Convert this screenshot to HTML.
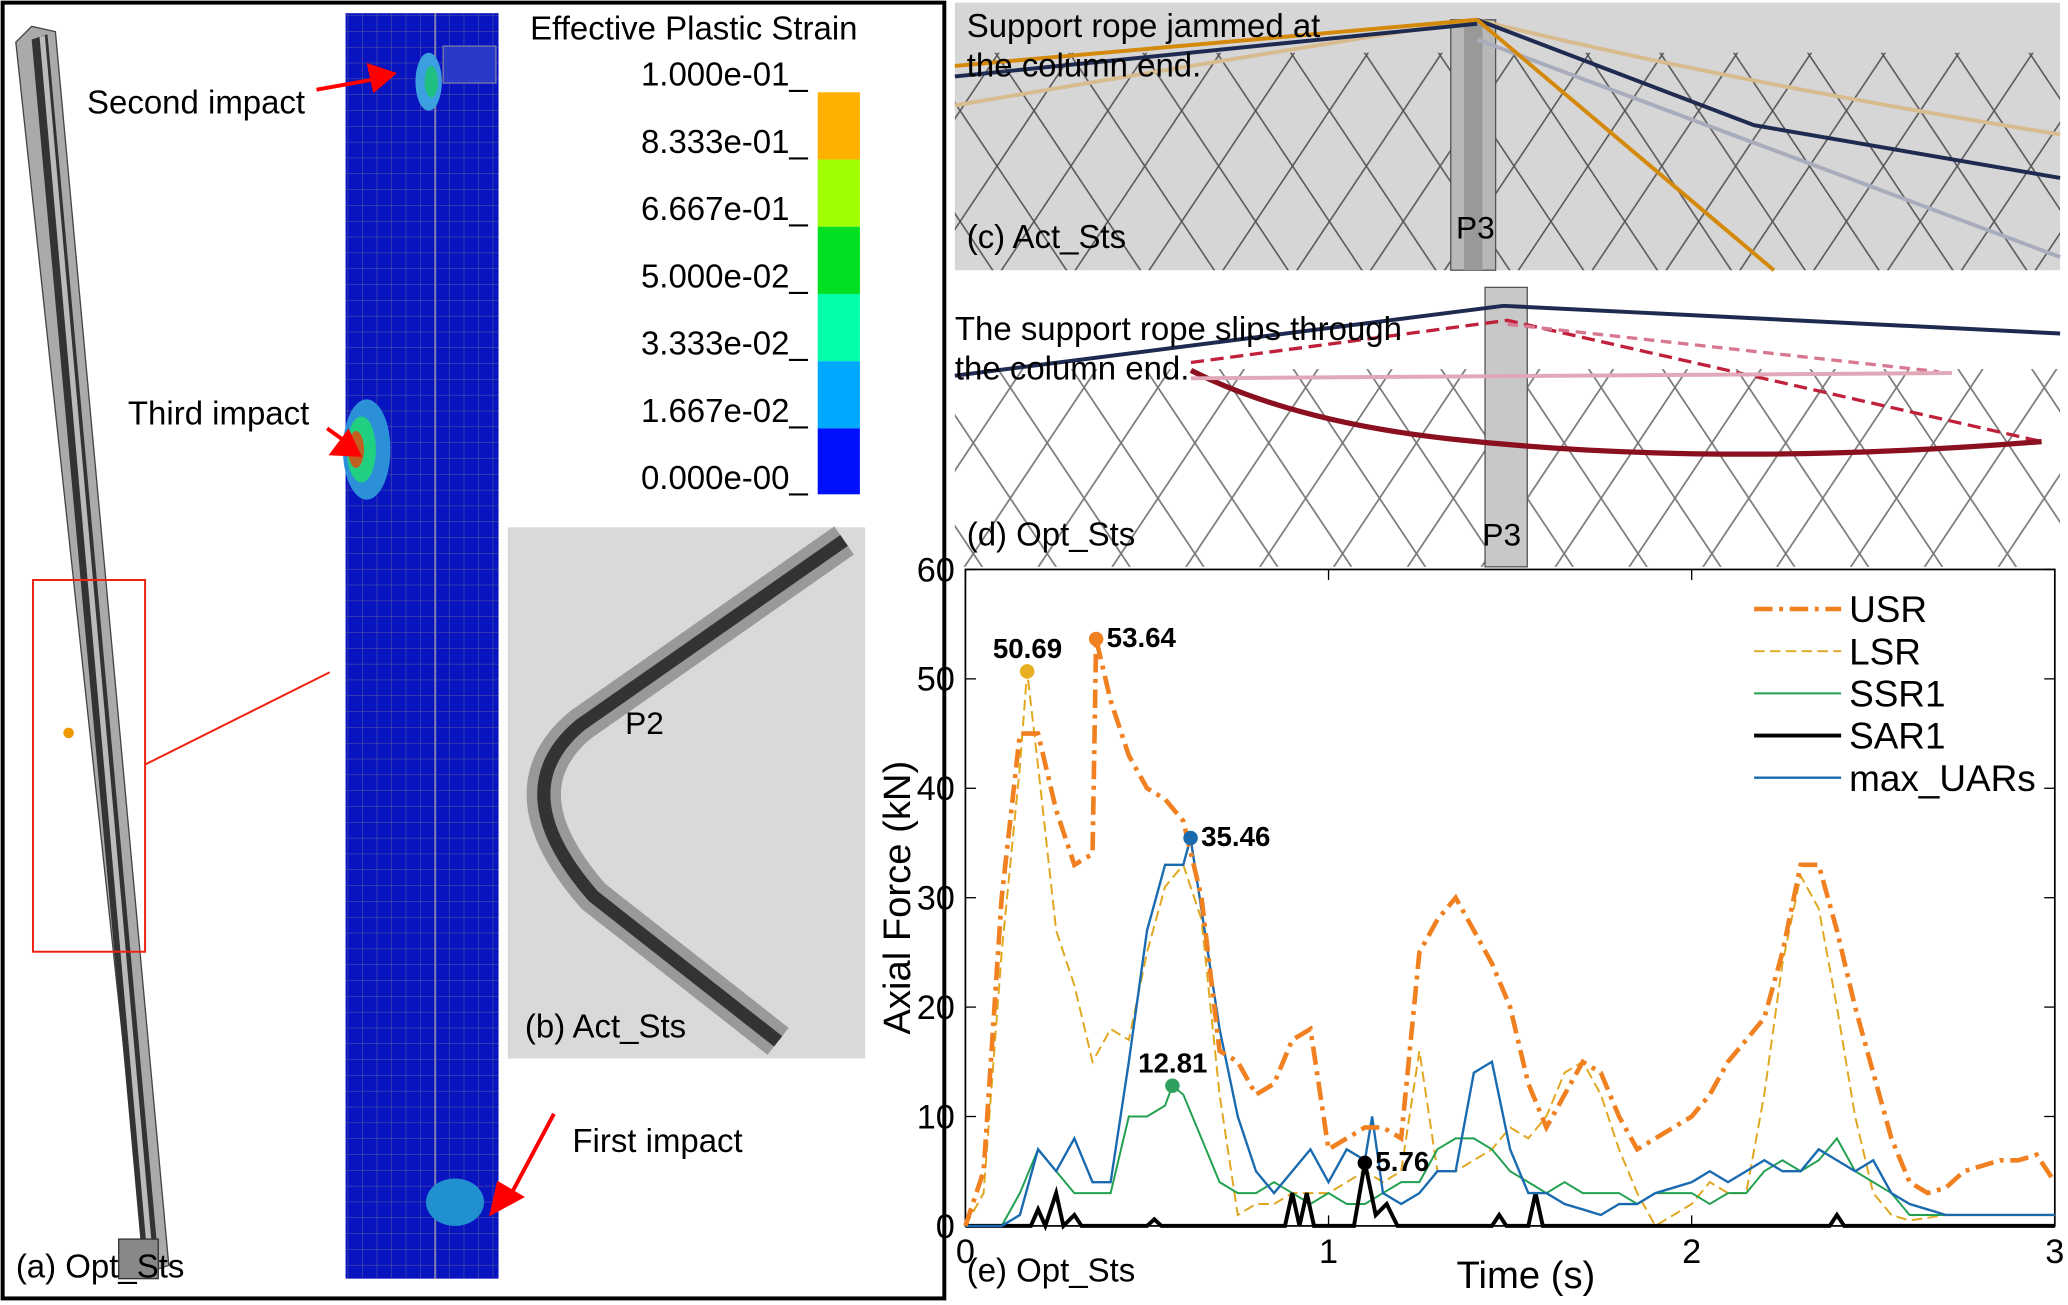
<!DOCTYPE html>
<html><head><meta charset="utf-8"><style>
html,body{margin:0;padding:0;background:#fff;}
svg{display:block;font-family:"Liberation Sans Narrow","Liberation Sans",sans-serif;}
</style></head><body>
<svg id="fig" width="2068" height="1305" viewBox="0 0 1568 990" preserveAspectRatio="none">
<defs>
<pattern id="grid" width="11" height="12" patternUnits="userSpaceOnUse"><path d="M11 0V12M0 12H11" stroke="#5a5a9a" stroke-width="0.8" fill="none"/></pattern>
<pattern id="mesh" width="56" height="84" patternUnits="userSpaceOnUse"><path d="M0 0L56 84M56 0L0 84" stroke="#555" stroke-width="1.2" fill="none"/></pattern>
<pattern id="mesh2" width="56" height="84" patternUnits="userSpaceOnUse" x="10"><path d="M0 0L56 84M56 0L0 84" stroke="#777" stroke-width="1.3" fill="none"/></pattern>
</defs>
<g>
<rect x="2" y="2" width="714" height="983" fill="#fff" stroke="#000" stroke-width="3"/>
<polygon points="12,32 24,20 42,24 128,960 112,965" fill="#aaa" stroke="#444" stroke-width="1"/>
<polygon points="24,30 36,26 120,955 108,958" fill="#333"/>
<polygon points="30,28 34,27 116,955 112,956" fill="#bbb"/>
<rect x="90" y="940" width="30" height="30" fill="#888" stroke="#333"/>
<rect x="25" y="440" width="85" height="282" fill="none" stroke="#e21" stroke-width="1.5"/>
<line x1="110" y1="580" x2="250" y2="510" stroke="#e21" stroke-width="1.5"/>
<circle cx="52" cy="556" r="4" fill="#e90"/>
<rect x="262" y="10" width="116" height="960" fill="#0814c0"/>
<rect x="262" y="10" width="116" height="960" fill="url(#grid)"/>
<line x1="330" y1="10" x2="330" y2="970" stroke="#8080b0" stroke-width="1.5"/>
<rect x="336" y="35" width="40" height="28" fill="#2a3ac8" stroke="#7a7aa8" stroke-width="1"/>
<ellipse cx="325" cy="62" rx="10" ry="22" fill="#3aa0e0"/><ellipse cx="327" cy="62" rx="5" ry="12" fill="#20c080"/>
<ellipse cx="278" cy="341" rx="18" ry="38" fill="#2c90d8"/><ellipse cx="274" cy="341" rx="11" ry="25" fill="#20d080"/><ellipse cx="270" cy="341" rx="6" ry="14" fill="#c06020"/>
<ellipse cx="345" cy="912" rx="22" ry="18" fill="#2090d0"/>
<text x="66" y="86" font-size="25">Second impact</text>
<text x="97" y="322" font-size="25">Third impact</text>
<text x="434" y="874" font-size="25">First impact</text>
<g stroke="#f00" stroke-width="3" fill="#f00">
<line x1="240" y1="68" x2="285" y2="60"/><polygon points="298,56 280,50 284,68"/>
<line x1="248" y1="325" x2="262" y2="335"/><polygon points="272,345 252,344 264,328"/>
<line x1="420" y1="845" x2="388" y2="905"/><polygon points="373,920 378,898 395,908"/>
</g>
<text x="402" y="30" font-size="25">Effective Plastic Strain</text>
<g font-size="25">
<text x="486" y="65">1.000e-01_</text><text x="486" y="116">8.333e-01_</text><text x="486" y="167">6.667e-01_</text><text x="486" y="218">5.000e-02_</text><text x="486" y="269">3.333e-02_</text><text x="486" y="320">1.667e-02_</text><text x="486" y="371">0.000e-00_</text>
<rect x="620" y="70" width="32" height="51" fill="#ffb000"/><rect x="620" y="121" width="32" height="51" fill="#a0ff00"/><rect x="620" y="172" width="32" height="51" fill="#00e020"/><rect x="620" y="223" width="32" height="51" fill="#00ffa8"/><rect x="620" y="274" width="32" height="51" fill="#00a8ff"/><rect x="620" y="325" width="32" height="50" fill="#0010ff"/>
</g>
<rect x="385" y="400" width="271" height="403" fill="#d9d9d9"/>
<path d="M640 410 L440 550 Q380 600 450 680 L590 790" fill="none" stroke="#999" stroke-width="26"/>
<path d="M640 410 L440 550 Q380 600 450 680 L590 790" fill="none" stroke="#333" stroke-width="10"/>
<text x="474" y="557" font-size="24">P2</text>
<text x="398" y="787" font-size="25">(b) Act_Sts</text>
<text x="12" y="969" font-size="25">(a) Opt_Sts</text>
</g>
<g>
<rect x="724" y="2" width="838" height="203" fill="#d6d6d6"/>
<rect x="724" y="40" width="838" height="165" fill="url(#mesh)"/>
<rect x="1100" y="15" width="34" height="190" fill="#b8b8b8" stroke="#555"/>
<rect x="1110" y="15" width="14" height="190" fill="#999"/>
<path d="M724 80 Q900 50 1120 15" stroke="#d8bc90" stroke-width="3" fill="none"/>
<path d="M1120 15 Q1300 60 1562 102" stroke="#d8bc90" stroke-width="3" fill="none"/>
<path d="M724 50 L1120 15" stroke="#d4890a" stroke-width="3" fill="none"/>
<path d="M724 58 L1120 18" stroke="#1e2a50" stroke-width="3" fill="none"/>
<path d="M1120 15 L1330 95 L1562 135" stroke="#1e2a50" stroke-width="3" fill="none"/>
<path d="M1120 30 L1562 195" stroke="#a8acbc" stroke-width="3" fill="none"/>
<path d="M1120 15 L1345 205" stroke="#d4890a" stroke-width="3" fill="none"/>
<text x="733" y="28" font-size="25">Support rope jammed at</text>
<text x="733" y="58" font-size="25">the column end.</text>
<text x="733" y="188" font-size="25">(c) Act_Sts</text>
<text x="1104" y="181" font-size="24">P3</text>
</g>
<g>
<rect x="724" y="215" width="838" height="215" fill="#fff"/>
<rect x="724" y="280" width="838" height="150" fill="url(#mesh2)"/>
<rect x="1126" y="218" width="32" height="212" fill="#c8c8c8" stroke="#555"/>
<path d="M724 285 L1140 232 L1562 253" stroke="#1e2a50" stroke-width="3" fill="none"/>
<path d="M903 275 L1143 243 L1548 335" stroke="#c0203a" stroke-width="2.5" stroke-dasharray="10 5" fill="none"/>
<path d="M1143 246 L1470 282" stroke="#d87890" stroke-width="2.5" stroke-dasharray="8 5" fill="none"/>
<path d="M903 281 Q980 320 1100 333 Q1300 355 1548 335" stroke="#8a1020" stroke-width="4" fill="none"/>
<path d="M903 287 L1480 283" stroke="#e0a8b8" stroke-width="3" fill="none"/>
<text x="724" y="258" font-size="25">The support rope slips through</text>
<text x="724" y="288" font-size="25">the column end.</text>
<text x="733" y="414" font-size="25">(d) Opt_Sts</text>
<text x="1124" y="414" font-size="24">P3</text>
</g>
<g id="chart"></g>
</svg>
<script>
const usrT=[0,0.05,0.1,0.15,0.2,0.25,0.3,0.35,0.36,0.4,0.45,0.5,0.55,0.6,0.65,0.7,0.75,0.8,0.85,0.9,0.95,1.0,1.05,1.1,1.15,1.2,1.25,1.3,1.35,1.4,1.45,1.5,1.55,1.6,1.65,1.7,1.75,1.8,1.85,1.9,1.95,2.0,2.05,2.1,2.15,2.2,2.25,2.3,2.35,2.4,2.45,2.5,2.55,2.6,2.65,2.7,2.75,2.8,2.85,2.9,2.95,3.0];
const usrV=[0,5,30,45,45,38,33,34,53.64,48,43,40,39,37,30,16,15,12,13,17,18,7,8,9,9,8,25,28,30,27,24,20,13,9,12,15,14,10,7,8,9,10,12,15,17,19,25,33,33,27,20,14,8,4,3,3.5,5,5.5,6,6,6.5,4];
const lsrT=[0,0.05,0.1,0.15,0.17,0.2,0.25,0.3,0.35,0.4,0.45,0.5,0.55,0.6,0.65,0.7,0.75,0.8,0.85,0.9,0.95,1.0,1.05,1.1,1.15,1.2,1.25,1.3,1.35,1.4,1.45,1.5,1.55,1.6,1.65,1.7,1.75,1.8,1.85,1.9,1.95,2.0,2.05,2.1,2.15,2.2,2.25,2.3,2.35,2.4,2.45,2.5,2.55,2.6,2.7,2.8,2.9,3.0];
const lsrV=[0,3,25,42,50.69,42,27,22,15,18,17,25,31,33,28,12,1,2,2,3,3,3,4,5,4,5,16,5,5,6,7,9,8,10,14,15,12,7,3,0,1,2,4,3,3,12,24,32,29,20,10,3,1,0.5,1,1,1,1];
const ssrT=[0,0.1,0.15,0.2,0.25,0.3,0.35,0.4,0.45,0.5,0.55,0.57,0.6,0.65,0.7,0.75,0.8,0.85,0.9,0.95,1.0,1.05,1.1,1.15,1.2,1.25,1.3,1.35,1.4,1.45,1.5,1.55,1.6,1.65,1.7,1.75,1.8,1.85,1.9,1.95,2.0,2.05,2.1,2.15,2.2,2.25,2.3,2.35,2.4,2.45,2.5,2.55,2.6,2.65,2.7,2.8,2.9,3.0];
const ssrV=[0,0,3,7,5,3,3,3,10,10,11,12.81,12,8,4,3,3,4,3,2,3,2,2,3,4,4,7,8,8,7,5,4,3,4,3,3,3,2,3,3,3,2,3,3,5,6,5,6,8,5,4,3,1,1,1,1,1,1];
const uarT=[0,0.1,0.15,0.2,0.25,0.3,0.35,0.4,0.45,0.5,0.55,0.6,0.62,0.7,0.75,0.8,0.85,0.9,0.95,1.0,1.05,1.1,1.12,1.15,1.2,1.25,1.3,1.35,1.4,1.45,1.5,1.55,1.6,1.65,1.7,1.75,1.8,1.85,1.9,1.95,2.0,2.05,2.1,2.15,2.2,2.25,2.3,2.35,2.4,2.45,2.5,2.55,2.6,2.65,2.7,2.8,2.9,3.0];
const uarV=[0,0,1,7,5,8,4,4,15,27,33,33,35.46,18,10,5,3,5,7,4,7,6,10,3,2,3,5,5,14,15,7,3,3,2,1.5,1,2,2,3,3.5,4,5,4,5,6,5,5,7,6,5,6,3,2,1.5,1,1,1,1];
const sarT=[0,0.18,0.2,0.22,0.25,0.27,0.3,0.32,0.5,0.52,0.54,0.88,0.9,0.92,0.94,0.96,1.07,1.1,1.13,1.16,1.19,1.45,1.47,1.49,1.55,1.57,1.59,2.38,2.4,2.42,3.0];
const sarV=[0,0,1.5,0,3,0,1,0,0,0.6,0,0,3,0,3,0,0,5.76,1,2,0,0,1,0,0,3,0,0,1,0,0];
const markT=[0.17,0.36,0.62,0.57,1.1];
const markV=[50.69,53.64,35.46,12.81,5.76];
const markLabels=["50.69","53.64","35.46","12.81","5.76"];
const xTicks=[0,1,2,3];
const yTicks=[0,10,20,30,40,50,60];
const X0=732,X1=1558,Y0=930,Y1=432;
const sx=t=>X0+(X1-X0)*t/3, sy=v=>Y0-(Y0-Y1)*v/60;
const NS="http://www.w3.org/2000/svg", g=document.getElementById('chart');
function mk(tag,attrs,parent){const e=document.createElementNS(NS,tag);for(const k in attrs)e.setAttribute(k,attrs[k]);(parent||g).appendChild(e);return e;}
const frame=mk('rect',{x:X0,y:Y1,width:X1-X0,height:Y0-Y1,fill:'#fff',stroke:'#000','stroke-width':1.3});


xTicks.forEach(t=>{mk('line',{x1:sx(t),x2:sx(t),y1:Y0,y2:Y0-8,stroke:'#000'});mk('line',{x1:sx(t),x2:sx(t),y1:Y1,y2:Y1+8,stroke:'#000'});
 const tx=mk('text',{x:sx(t),y:Y0+28,'font-size':26,'text-anchor':'middle'});tx.textContent=t;
 
 });
yTicks.forEach(v=>{mk('line',{x1:X0,x2:X0+8,y1:sy(v),y2:sy(v),stroke:'#000'});mk('line',{x1:X1,x2:X1-8,y1:sy(v),y2:sy(v),stroke:'#000'});
 const tx=mk('text',{x:X0-8,y:sy(v)+9,'font-size':26,'text-anchor':'end'});tx.textContent=v;
 
 });
const xt=mk('text',{x:1157,y:977,'font-size':29,'text-anchor':'middle'});xt.textContent='Time (s)';


const yt=mk('text',{x:0,y:0,'font-size':29,'text-anchor':'middle',transform:'translate(690,681) rotate(-90)'});yt.textContent='Axial Force (kN)';


const pl=mk('text',{x:733,y:972,'font-size':25});pl.textContent='(e) Opt_Sts';


function series(T,V,style,name){const d=T.map((t,i)=>(i?'L':'M')+sx(t).toFixed(1)+' '+sy(V[i]).toFixed(1)).join(' ');
 const p=mk('path',Object.assign({d:d,fill:'none'},style));
 
 }
const sUSR={stroke:'#f08020','stroke-width':3.5,'stroke-dasharray':'14 5 3 5'};
const sLSR={stroke:'#e0a820','stroke-width':1.5,'stroke-dasharray':'8 4'};
const sSSR={stroke:'#22a050','stroke-width':1.5};
const sSAR={stroke:'#000','stroke-width':3};
const sUAR={stroke:'#1a6ab0','stroke-width':1.8};
series(lsrT,lsrV,sLSR,'lsr-line');
series(ssrT,ssrV,sSSR,'ssr1-line');
series(sarT,sarV,sSAR,'sar1-line');
series(uarT,uarV,sUAR,'max-uars-line');
series(usrT,usrV,sUSR,'usr-line');
const mcol=['#e8b020','#f08020','#1a6ab0','#30a060','#000'];
markT.forEach((t,i)=>{const c=mk('circle',{cx:sx(t),cy:sy(markV[i]),r:5.5,fill:mcol[i]});
 
 
 const dx=(i==0||i==3)?-26:8, dy=(i==0||i==3)?-10:6;
 const tx=mk('text',{x:sx(t)+dx,y:sy(markV[i])+dy,'font-size':21,'font-weight':'bold'});tx.textContent=markLabels[i];
 
 });
const legNames=['USR','LSR','SSR1','SAR1','max_UARs'],legStyles=[sUSR,sLSR,sSSR,sSAR,sUAR];
legNames.forEach((n,i)=>{const y=462+i*32;
 const l=mk('line',Object.assign({x1:1330,x2:1396,y1:y,y2:y},legStyles[i]));
 
 
 const tx=mk('text',{x:1402,y:y+10,'font-size':28});tx.textContent=n;
 
 });
</script>
</body></html>
